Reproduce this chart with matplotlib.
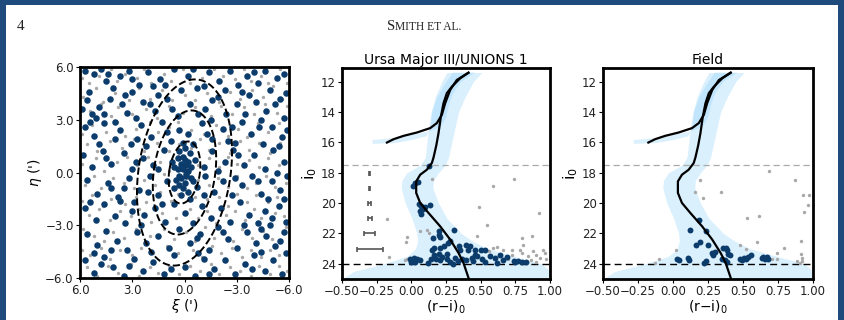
import matplotlib
matplotlib.use("Agg")
import matplotlib.pyplot as plt
import numpy as np
from matplotlib.patches import Rectangle

navy = "#0b3c6b"
grey = "#a8a8a8"
band = "#87cefa"
frame = "#1f4a7c"

# ---- spatial panel: tangent-plane coordinates (arcmin) ----
mem_pts = [
    (5.7, 5.8), (5.2, 5.6), (4.8, 5.9), (4.5, 5.2), (3.7, 5.5), (3.2, 5.8), (2.6, 5.0), (2.1, 5.7),
    (1.4, 5.3), (0.6, 5.9), (-0.2, 5.5), (-0.7, 4.8), (-1.4, 5.7), (-2.0, 5.2), (-2.6, 5.8), (-3.1, 5.0),
    (-3.6, 5.5), (-4.2, 5.1), (-4.6, 5.8), (-5.3, 5.4), (-5.7, 5.6), (5.5, 4.6), (4.1, 4.8), (3.0, 4.6),
    (1.8, 4.9), (0.2, 4.7), (-1.1, 4.9), (-3.3, 4.6), (-4.9, 4.7), (-5.8, 4.5),
    (5.6, 4.1), (4.9, 3.7), (4.3, 4.2), (3.6, 3.9), (3.3, 3.4), (2.4, 4.0), (1.7, 3.5), (1.0, 4.2),
    (0.4, 3.2), (-0.3, 3.9), (-1.2, 3.6), (-1.9, 4.3), (-2.4, 3.3), (-3.0, 3.9), (-3.5, 3.3), (-4.1, 4.0),
    (-4.7, 3.5), (-5.2, 3.9), (-5.7, 3.1), (5.1, 3.1), (2.8, 3.1), (-0.8, 3.3), (-4.4, 3.0), (4.6, 3.3),
    (5.7, 2.6), (5.2, 2.1), (4.6, 2.8), (4.0, 1.9), (3.7, 2.4), (3.1, 1.6), (2.5, 2.7), (1.9, 2.0),
    (1.3, 2.9), (0.8, 1.8), (0.3, 2.4), (-0.2, 2.2), (-0.5, 1.6), (-1.0, 2.8), (-1.6, 1.9), (-2.2, 2.5),
    (-2.9, 1.7), (-3.3, 2.9), (-3.8, 2.2), (-4.5, 1.6), (-5.0, 2.6), (-5.6, 2.0), (4.9, 1.6), (2.2, 1.5),
    (-1.3, 2.2), (0.1, 1.7), (-5.4, 1.5),
    (5.8, 1.0), (5.3, 0.3), (4.7, 1.2), (4.2, 0.5), (3.5, 1.1), (3.0, 0.2), (2.4, 0.8), (1.8, 0.4),
    (1.2, 1.3), (0.7, 0.6), (0.4, 0.2), (0.1, 0.9), (-0.1, 0.4), (-0.3, 1.1), (-0.2, 0.1), (0.2, 0.5),
    (-0.6, 0.7), (-1.1, 0.3), (-1.6, 1.2), (-2.3, 0.6), (-2.8, 1.3), (-3.4, 0.4), (-4.0, 1.0), (-4.6, 0.2),
    (-5.1, 1.3), (-5.7, 0.6), (0.0, 0.7), (0.3, 1.2), (-0.4, 0.3),
    (5.6, -0.4), (5.0, -1.2), (4.4, -0.6), (3.8, -1.4), (3.2, -0.3), (2.6, -1.0), (2.0, -0.2), (1.5, -1.3),
    (1.0, -0.5), (0.6, -0.9), (0.3, -0.2), (0.0, -0.6), (-0.2, -1.1), (-0.4, -0.3), (0.2, -1.3), (-0.7, -0.8),
    (-1.2, -0.2), (-1.7, -1.1), (-2.2, -0.5), (-2.7, -1.3), (-3.3, -0.7), (-3.9, -0.2), (-4.4, -1.2),
    (-5.0, -0.5), (-5.5, -1.0), (-5.9, -0.2), (0.5, -0.4), (-0.1, -0.2), (0.1, -0.9),
    (5.7, -2.0), (5.1, -2.7), (4.6, -1.8), (4.0, -2.5), (3.4, -2.9), (2.9, -1.7), (2.3, -2.4), (1.7, -2.0),
    (1.1, -2.8), (0.6, -1.8), (0.0, -2.3), (-0.5, -2.9), (-1.0, -1.9), (-1.5, -2.6), (-2.1, -2.0),
    (-2.6, -2.8), (-3.2, -1.7), (-3.7, -2.4), (-4.2, -2.9), (-4.6, -2.2), (-5.0, -2.6), (-5.4, -1.9),
    (-5.8, -2.8), (3.7, -1.6), (-4.9, -3.0),
    (5.6, -3.5), (5.0, -4.1), (4.5, -3.3), (3.9, -3.9), (3.3, -4.4), (2.7, -3.4), (2.2, -4.0), (1.5, -3.6),
    (0.9, -4.3), (0.3, -3.2), (-0.3, -4.0), (-0.9, -3.5), (-1.4, -4.4), (-1.9, -3.1), (-2.5, -3.8),
    (-3.0, -4.3), (-3.6, -3.4), (-4.1, -4.0), (-4.7, -3.6), (-5.2, -4.2), (-5.7, -3.4), (-5.5, -3.9),
    (-4.4, -3.2), (4.2, -4.4),
    (5.7, -5.0), (5.2, -5.7), (4.6, -4.8), (4.1, -5.4), (3.5, -5.9), (2.9, -4.9), (2.4, -5.6), (1.8, -5.1),
    (1.2, -5.8), (0.6, -4.7), (0.0, -5.4), (-0.6, -5.9), (-1.1, -4.9), (-1.7, -5.5), (-2.3, -5.0),
    (-2.9, -5.8), (-3.5, -5.2), (-4.0, -4.7), (-4.6, -5.6), (-5.1, -5.0), (-5.6, -5.8), (-5.8, -4.6),
    (3.2, -5.3), (-1.4, -5.8),
    (5.9, 3.6), (4.4, 5.6), (3.0, 5.3), (1.1, 5.0), (-0.5, 5.9), (-2.3, 4.7), (-4.0, 5.7), (5.4, 2.9),
    (3.4, 4.4), (1.5, 4.4), (-1.6, 4.1), (-2.7, 2.6), (-4.3, 2.6), (-5.9, 2.4), (4.5, 0.8), (2.7, 1.9),
    (1.5, 0.2), (-1.9, 0.1), (-3.1, 1.0), (-5.3, 0.0), (5.4, -1.7), (3.5, -0.9), (1.3, -1.8),
    (-2.9, -0.3), (-4.8, -1.5), (2.5, -3.0), (-0.7, -3.7), (-3.4, -3.0), (4.8, -5.2), (0.8, -5.5),
    (0.1, 0.2), (-0.1, -0.1), (0.2, -0.3), (-0.2, 0.6), (0.4, 0.8), (-0.5, -0.5), (0.6, 0.3),
    (0.0, 1.4), (-0.3, -1.5), (0.3, -0.7),
    (5.3, 3.3), (4.0, 2.9), (2.0, 3.9), (0.7, 3.6), (-1.5, 3.0), (-3.7, 4.4), (-5.5, 4.2), (4.2, -0.9),
    (2.8, 0.6), (1.0, 2.3), (-2.5, 1.8), (-4.2, -0.5), (-5.7, -1.5), (3.0, -2.2), (1.9, -4.5),
    (-0.8, -4.6), (-2.2, -3.4), (-4.4, -4.5), (5.2, -4.6), (-3.9, -5.5), (2.1, -1.1), (-1.1, -1.3),
]

fg_pts = [
    (5.9, 5.4), (5.5, 5.1), (4.9, 5.5), (4.2, 5.9), (3.9, 5.2), (3.4, 5.6), (2.7, 5.4), (2.3, 5.9),
    (1.9, 5.1), (1.2, 5.6), (0.8, 5.2), (0.1, 5.9), (-0.3, 5.1), (-1.0, 5.4), (-1.7, 5.9), (-2.2, 5.5),
    (-2.9, 5.3), (-3.4, 5.9), (-3.8, 5.2), (-4.4, 5.5), (-4.8, 5.1), (-5.5, 5.9), (-5.9, 5.1),
    (5.8, 4.3), (5.1, 4.8), (4.7, 4.0), (4.0, 4.5), (3.2, 4.1), (2.6, 4.8), (2.0, 4.2), (1.3, 4.7),
    (0.7, 4.1), (0.0, 4.4), (-0.6, 4.1), (-1.3, 4.5), (-2.0, 4.0), (-2.6, 4.6), (-3.2, 4.2), (-3.9, 4.7),
    (-4.5, 4.3), (-5.1, 4.9), (-5.6, 4.2),
    (5.4, 3.5), (4.8, 3.9), (4.2, 3.2), (3.8, 3.7), (3.0, 3.3), (2.2, 3.6), (1.6, 3.1), (0.9, 3.8),
    (0.1, 3.4), (-0.6, 3.7), (-1.5, 3.2), (-2.1, 3.8), (-2.7, 3.3), (-3.4, 3.7), (-4.0, 3.3), (-4.6, 3.9),
    (-5.3, 3.4), (-5.9, 3.8),
    (5.9, 2.2), (5.3, 2.7), (4.5, 2.3), (3.9, 2.9), (3.4, 2.1), (2.8, 2.5), (2.0, 2.9), (1.5, 2.3),
    (0.9, 2.6), (0.4, 2.9), (-0.4, 2.4), (-1.1, 2.2), (-1.8, 2.7), (-2.5, 2.1), (-3.1, 2.5), (-3.6, 2.0),
    (-4.2, 2.8), (-4.8, 2.3), (-5.4, 2.8),
    (5.6, 1.6), (5.0, 1.2), (4.3, 1.8), (3.6, 1.4), (2.9, 1.9), (2.3, 1.2), (1.6, 1.7), (0.9, 1.2),
    (0.3, 1.6), (-0.4, 1.4), (-0.9, 1.9), (-1.4, 1.3), (-2.0, 1.7), (-2.6, 1.1), (-3.2, 1.8), (-3.7, 1.3),
    (-4.3, 1.7), (-4.9, 1.1), (-5.5, 1.7),
    (5.9, 0.5), (5.1, 0.8), (4.6, 0.1), (3.9, 0.6), (3.3, 0.9), (2.7, 0.4), (2.1, 0.9), (1.4, 0.6),
    (0.9, 0.1), (-0.8, 0.4), (-1.4, 0.8), (-2.0, 0.3), (-2.5, 0.9), (-3.0, 0.5), (-3.7, 0.7), (-4.3, 0.3),
    (-4.8, 0.8), (-5.4, 0.4),
    (5.7, -0.7), (5.2, -0.2), (4.8, -0.9), (4.1, -0.3), (3.5, -0.6), (2.9, -0.9), (2.3, -0.4), (1.7, -0.7),
    (1.2, -0.1), (-0.8, -0.4), (-1.4, -0.7), (-1.9, -0.3), (-2.5, -0.8), (-3.0, -0.2), (-3.6, -0.9),
    (-4.1, -0.6), (-4.7, -0.2), (-5.2, -0.8), (-5.8, -0.6),
    (5.9, -1.6), (5.3, -1.3), (4.7, -1.9), (4.2, -1.5), (3.4, -1.8), (2.8, -1.4), (2.2, -1.7), (1.4, -1.1),
    (0.8, -1.6), (0.4, -1.2), (-0.6, -1.4), (-1.3, -1.5), (-2.0, -1.4), (-2.5, -1.9), (-3.0, -1.2),
    (-3.6, -1.7), (-4.1, -1.3), (-4.8, -1.7), (-5.3, -1.4),
    (5.5, -2.4), (4.9, -2.1), (4.3, -2.7), (3.7, -2.2), (3.1, -2.5), (2.6, -2.1), (1.9, -2.8), (1.3, -2.3),
    (0.5, -2.6), (-0.3, -2.1), (-0.8, -2.6), (-1.3, -2.2), (-1.8, -2.9), (-2.4, -2.4), (-2.9, -2.2),
    (-3.5, -2.7), (-4.0, -2.1), (-4.4, -2.6), (-5.2, -2.3), (-5.7, -2.5),
    (5.8, -3.2), (5.2, -3.6), (4.6, -3.9), (4.1, -3.4), (3.5, -3.7), (2.8, -3.2), (2.0, -3.6), (1.2, -3.2),
    (0.6, -3.8), (-0.1, -3.4), (-0.6, -3.9), (-1.2, -3.1), (-1.7, -3.7), (-2.2, -3.3), (-2.8, -3.9),
    (-3.3, -3.2), (-3.9, -3.7), (-4.5, -3.3), (-5.0, -3.8), (-5.8, -3.1),
    (5.9, -4.4), (5.4, -4.7), (4.8, -4.3), (4.3, -4.9), (3.7, -4.4), (3.0, -4.7), (2.5, -4.3), (1.8, -4.6),
    (1.0, -4.2), (0.4, -4.6), (-0.5, -4.4), (-1.0, -4.8), (-1.6, -4.2), (-2.1, -4.6), (-2.7, -4.3),
    (-3.3, -4.8), (-3.8, -4.4), (-4.4, -4.8), (-4.9, -4.4), (-5.4, -4.7),
    (5.6, -5.4), (5.0, -5.9), (4.4, -5.3), (3.8, -5.7), (3.1, -5.2), (2.6, -5.9), (2.0, -5.4), (1.5, -5.7),
    (0.9, -5.3), (0.3, -5.8), (-0.3, -5.3), (-0.9, -5.6), (-1.5, -5.2), (-2.0, -5.8), (-2.6, -5.4),
    (-3.2, -5.6), (-3.8, -5.9), (-4.3, -5.3), (-4.9, -5.8), (-5.4, -5.3), (-5.9, -5.6),
]

# half-light-radius ellipses: 1, 2, 3 r_h
ell_scale = [1, 2, 3]
ell_a, ell_b, ell_theta = 1.78, 0.88, 8.6  # arcmin, arcmin, deg

sky_ticks = [6, 3, 0, -3, -6]
sky_ticklabels = ["6.0", "3.0", "0.0", "\u22123.0", "\u22126.0"]

# ---- CMD panels ----
iso_rgb_col = [0.412, 0.352, 0.292, 0.256, 0.232, 0.213, 0.196, 0.180, 0.160, 0.148, 0.112, 0.064,
               0.035, 0.035, 0.064, 0.124, 0.208, 0.280, 0.340, 0.376, 0.412, 0.420]
iso_rgb_mag = [11.41, 11.78, 12.33, 12.76, 13.42, 14.30, 15.39, 16.20, 17.00, 17.36, 17.80, 18.13,
               18.57, 19.33, 19.99, 20.65, 21.53, 22.40, 23.28, 23.94, 24.92, 25.10]
iso_hb_col = [0.412, 0.328, 0.280, 0.244, 0.220, 0.184, 0.136, 0.040, -0.056, -0.128, -0.176]
iso_hb_mag = [11.41, 11.89, 12.55, 13.42, 14.19, 14.73, 15.06, 15.35, 15.57, 15.79, 16.01]

# selection mask around the RGB / MS
mask_mag = [11.4, 12.0, 13.0, 14.0, 15.0, 16.0, 17.0, 17.5, 18.0, 18.5, 19.0, 20.0, 21.0, 22.0,
            22.5, 23.0, 23.5, 24.0, 24.5, 25.0]
mask_lo = [0.256, 0.22, 0.172, 0.143, 0.124, 0.112, 0.10, 0.064, -0.032, -0.068, -0.073, -0.044,
           0.004, 0.040, 0.045, 0.030, -0.030, -0.200, -0.416, -0.5]
mask_hi = [0.508, 0.448, 0.388, 0.340, 0.316, 0.292, 0.268, 0.244, 0.196, 0.160, 0.155, 0.196,
           0.256, 0.360, 0.440, 0.550, 0.740, 0.940, 1.0, 1.0]
# mask around the AGB / HB
hb_mask_col = [0.46, 0.36, 0.30, 0.27, 0.25, 0.21, 0.12, 0.00, -0.12, -0.28,
               -0.28, -0.12, 0.00, 0.11, 0.14, 0.15, 0.19, 0.24, 0.30]
hb_mask_mag = [11.4, 12.0, 12.8, 13.6, 14.4, 15.0, 15.3, 15.5, 15.7, 15.85,
               16.1, 16.05, 15.85, 15.6, 15.0, 14.0, 13.0, 12.2, 11.4]

bright_cut = 17.5
faint_cut = 24.0

err_mag = [18, 19, 20, 21, 22, 23]
err_col = [0.002, 0.003, 0.012, 0.015, 0.040, 0.094]
err_x = -0.3

um3_mem = [
    (0.124, 17.58), (0.011, 18.85), (0.028, 18.68), (0.045, 18.59), (0.052, 20.04), (0.069, 20.17),
    (0.059, 20.49), (0.083, 20.39), (0.071, 20.69), (0.10, 20.25), (0.136, 20.10), (0.153, 22.27),
    (0.203, 21.85), (0.196, 22.09), (0.208, 22.22), (0.311, 21.79), (0.261, 22.62), (0.28, 22.51),
    (0.148, 23.10), (0.165, 22.99), (0.208, 22.95), (0.237, 22.84), (0.16, 23.45), (0.196, 23.38),
    (0.22, 23.54), (0.256, 23.38), (0.345, 22.84), (0.352, 23.06), (0.395, 22.77), (0.424, 22.84),
    (0.412, 23.06), (0.46, 23.06), (0.477, 23.49), (0.501, 23.10), (0.532, 23.06), (0.46, 23.45),
    (-0.008, 23.71), (0.016, 23.60), (0.04, 23.67), (0.064, 23.76), (0.143, 23.71), (0.18, 23.67),
    (0.208, 23.78), (0.256, 23.71), (0.28, 23.89), (0.316, 23.60), (0.34, 23.82), (0.364, 23.67),
    (0.395, 23.78), (0.436, 23.60), (0.448, 23.82), (0.508, 23.71), (0.568, 23.49), (0.604, 23.60),
    (0.64, 23.45), (0.664, 23.76), (0.688, 23.54), (0.741, 23.82), (0.772, 23.82), (0.796, 23.89),
    (0.825, 23.87), (0.00, 23.90), (0.03, 23.85), (0.12, 23.95), (0.30, 23.98), (0.53, 23.90),
    (0.62, 23.95), (0.75, 23.90),
]
um3_fg = [
    (0.148, 18.41), (0.592, 18.90), (0.743, 18.39), (-0.176, 21.02), (0.489, 20.28), (0.544, 21.46),
    (0.921, 20.65), (0.059, 21.85), (0.112, 21.74), (0.124, 21.96), (-0.032, 22.22), (-0.037, 22.58),
    (-0.164, 23.56), (-0.032, 23.67), (-0.044, 23.78), (0.477, 22.14), (0.801, 22.29), (0.873, 22.18),
    (0.808, 22.73), (0.592, 22.99), (0.616, 22.88), (0.664, 23.06), (0.724, 23.10), (0.784, 23.06),
    (0.88, 23.17), (0.952, 23.06), (0.964, 23.28), (0.899, 23.45), (0.928, 23.60), (0.844, 23.49),
    (0.796, 23.28), (0.724, 23.45), (0.563, 23.17), (0.97, 23.70), (0.90, 23.85), (0.86, 23.75),
    (0.70, 23.70),
]
field_mem = [
    (0.188, 21.09), (0.121, 21.79), (0.235, 21.85), (0.164, 22.77), (0.193, 22.58), (0.252, 22.77),
    (0.276, 23.28), (0.288, 23.45), (0.30, 23.23), (0.359, 22.99), (0.378, 22.95), (0.388, 23.10),
    (0.395, 23.38), (0.407, 23.45), (0.031, 23.67), (0.045, 23.78), (0.109, 23.60), (0.116, 23.78),
    (0.221, 23.93), (0.235, 23.84), (0.347, 23.71), (0.371, 23.78), (0.388, 23.89), (0.478, 23.67),
    (0.49, 23.78), (0.507, 23.60), (0.521, 23.71), (0.538, 23.54), (0.557, 23.45), (0.633, 23.60),
    (0.645, 23.54), (0.657, 23.67), (0.669, 23.54), (0.676, 23.65),
]
field_fg = [
    (0.688, 17.91), (0.871, 18.50), (0.193, 18.46), (0.157, 19.29), (0.216, 19.66), (0.34, 19.29),
    (0.931, 19.49), (0.974, 19.49), (0.962, 20.10), (0.935, 20.60), (0.526, 20.98), (0.614, 20.87),
    (0.914, 22.47), (0.793, 22.99), (0.74, 23.28), (0.74, 23.65), (0.602, 22.55), (0.521, 23.01),
    (0.478, 22.73), (0.019, 23.10), (-0.10, 23.67), (-0.129, 23.93), (0.914, 23.38), (0.919, 23.60),
    (0.924, 23.82), (0.907, 23.93), (0.883, 23.82), (0.704, 23.67),
]

cmd_xticks = [-0.5, -0.25, 0.0, 0.25, 0.5, 0.75, 1.0]
cmd_xticklabels = ["\u22120.50", "\u22120.25", "0.00", "0.25", "0.50", "0.75", "1.00"]
cmd_yticks = [12, 14, 16, 18, 20, 22, 24]

tick_fs = 8.5


def style_axes(ax):
    for sp in ax.spines.values():
        sp.set_linewidth(2.0)
    ax.tick_params(direction="out", length=3, width=0.8, labelsize=tick_fs,
                   labelcolor="#222222", pad=1.5)


def draw_cmd(ax, mem, fg, title, errors=False):
    ax.fill_betweenx(mask_mag, mask_lo, mask_hi, color=band, alpha=0.3, lw=0, zorder=0)
    ax.fill(hb_mask_col, hb_mask_mag, color=band, alpha=0.3, lw=0, zorder=0)
    ax.axhline(bright_cut, color="#aaaaaa", ls="--", lw=0.9, dashes=(5, 3), zorder=1)
    ax.axhline(faint_cut, color="k", ls="--", lw=1.0, dashes=(5, 3), zorder=1)
    fx, fy = zip(*fg)
    ax.scatter(fx, fy, s=6, color=grey, lw=0, zorder=2)
    mx, my = zip(*mem)
    ax.scatter(mx, my, s=18, color=navy, lw=0, zorder=3)
    ax.plot(iso_rgb_col, iso_rgb_mag, color="k", lw=1.6, zorder=4)
    ax.plot(iso_hb_col, iso_hb_mag, color="k", lw=1.6, zorder=4)
    if errors:
        ax.errorbar([err_x] * len(err_mag), err_mag, xerr=err_col, fmt="none",
                    ecolor="#555555", elinewidth=1.2, capsize=1.8, capthick=1.2, zorder=3)
    ax.set_xlim(-0.5, 1.0)
    ax.set_ylim(25.0, 11.1)
    ax.set_xticks(cmd_xticks)
    ax.set_xticklabels(cmd_xticklabels)
    ax.set_yticks(cmd_yticks)
    ax.set_xlabel(r"(r$-$i)$_0$", fontsize=10, labelpad=0)
    ax.set_ylabel(r"i$_0$", fontsize=11.5, labelpad=1)
    ax.set_title(title, fontsize=10, pad=3)
    style_axes(ax)


fig = plt.figure(figsize=(8.44, 3.2), dpi=100)
W, H = 844.0, 320.0

# page frame and running head
fig.add_artist(Rectangle((0, 0), 6 / W, 1, transform=fig.transFigure, color=frame, lw=0))
fig.add_artist(Rectangle((838 / W, 0), 6 / W, 1, transform=fig.transFigure, color=frame, lw=0))
fig.add_artist(Rectangle((0, 1 - 5 / H), 1, 5 / H, transform=fig.transFigure, color=frame, lw=0))
fig.text(21 / W, 1 - 30 / H, "4", family="Liberation Serif", fontsize=11, color="#222222",
         ha="center", va="baseline")
fig.text(395 / W, 1 - 30 / H, "S", family="Liberation Serif", fontsize=10.5, color="#222222",
         ha="right", va="baseline")
fig.text(395 / W, 1 - 30 / H, "MITH ET AL.", family="Liberation Serif", fontsize=8.3,
         color="#222222", ha="left", va="baseline")

# spatial distribution
ax1 = fig.add_axes([80 / W, 42 / H, 209 / W, 211 / H])
gx, gy = zip(*fg_pts)
ax1.scatter(gx, gy, s=6, color=grey, lw=0, zorder=1)
sx, sy = zip(*mem_pts)
ax1.scatter(sx, sy, s=22, color=navy, lw=0, zorder=2)
t = np.linspace(0, 2 * np.pi, 300)
th = np.deg2rad(ell_theta)
for k in ell_scale:
    ex = k * ell_b * np.cos(t)
    ey = k * ell_a * np.sin(t)
    ax1.plot(ex * np.cos(th) - ey * np.sin(th), ex * np.sin(th) + ey * np.cos(th),
             color="k", ls="--", lw=1.4, zorder=3)
ax1.set_xlim(6, -6)
ax1.set_ylim(-6, 6)
ax1.set_xticks(sky_ticks)
ax1.set_xticklabels(sky_ticklabels)
ax1.set_yticks(sky_ticks)
ax1.set_yticklabels(sky_ticklabels)
ax1.set_xlabel(r"$\xi$ (')", fontsize=10, labelpad=0)
ax1.set_ylabel(r"$\eta$ (')", fontsize=10, labelpad=1)
style_axes(ax1)

ax2 = fig.add_axes([342 / W, 41 / H, 208 / W, 211 / H])
draw_cmd(ax2, um3_mem, um3_fg, "Ursa Major III/UNIONS 1", errors=True)

ax3 = fig.add_axes([603 / W, 41 / H, 210 / W, 211 / H])
draw_cmd(ax3, field_mem, field_fg, "Field")

fig.savefig("out.png", dpi=100)
